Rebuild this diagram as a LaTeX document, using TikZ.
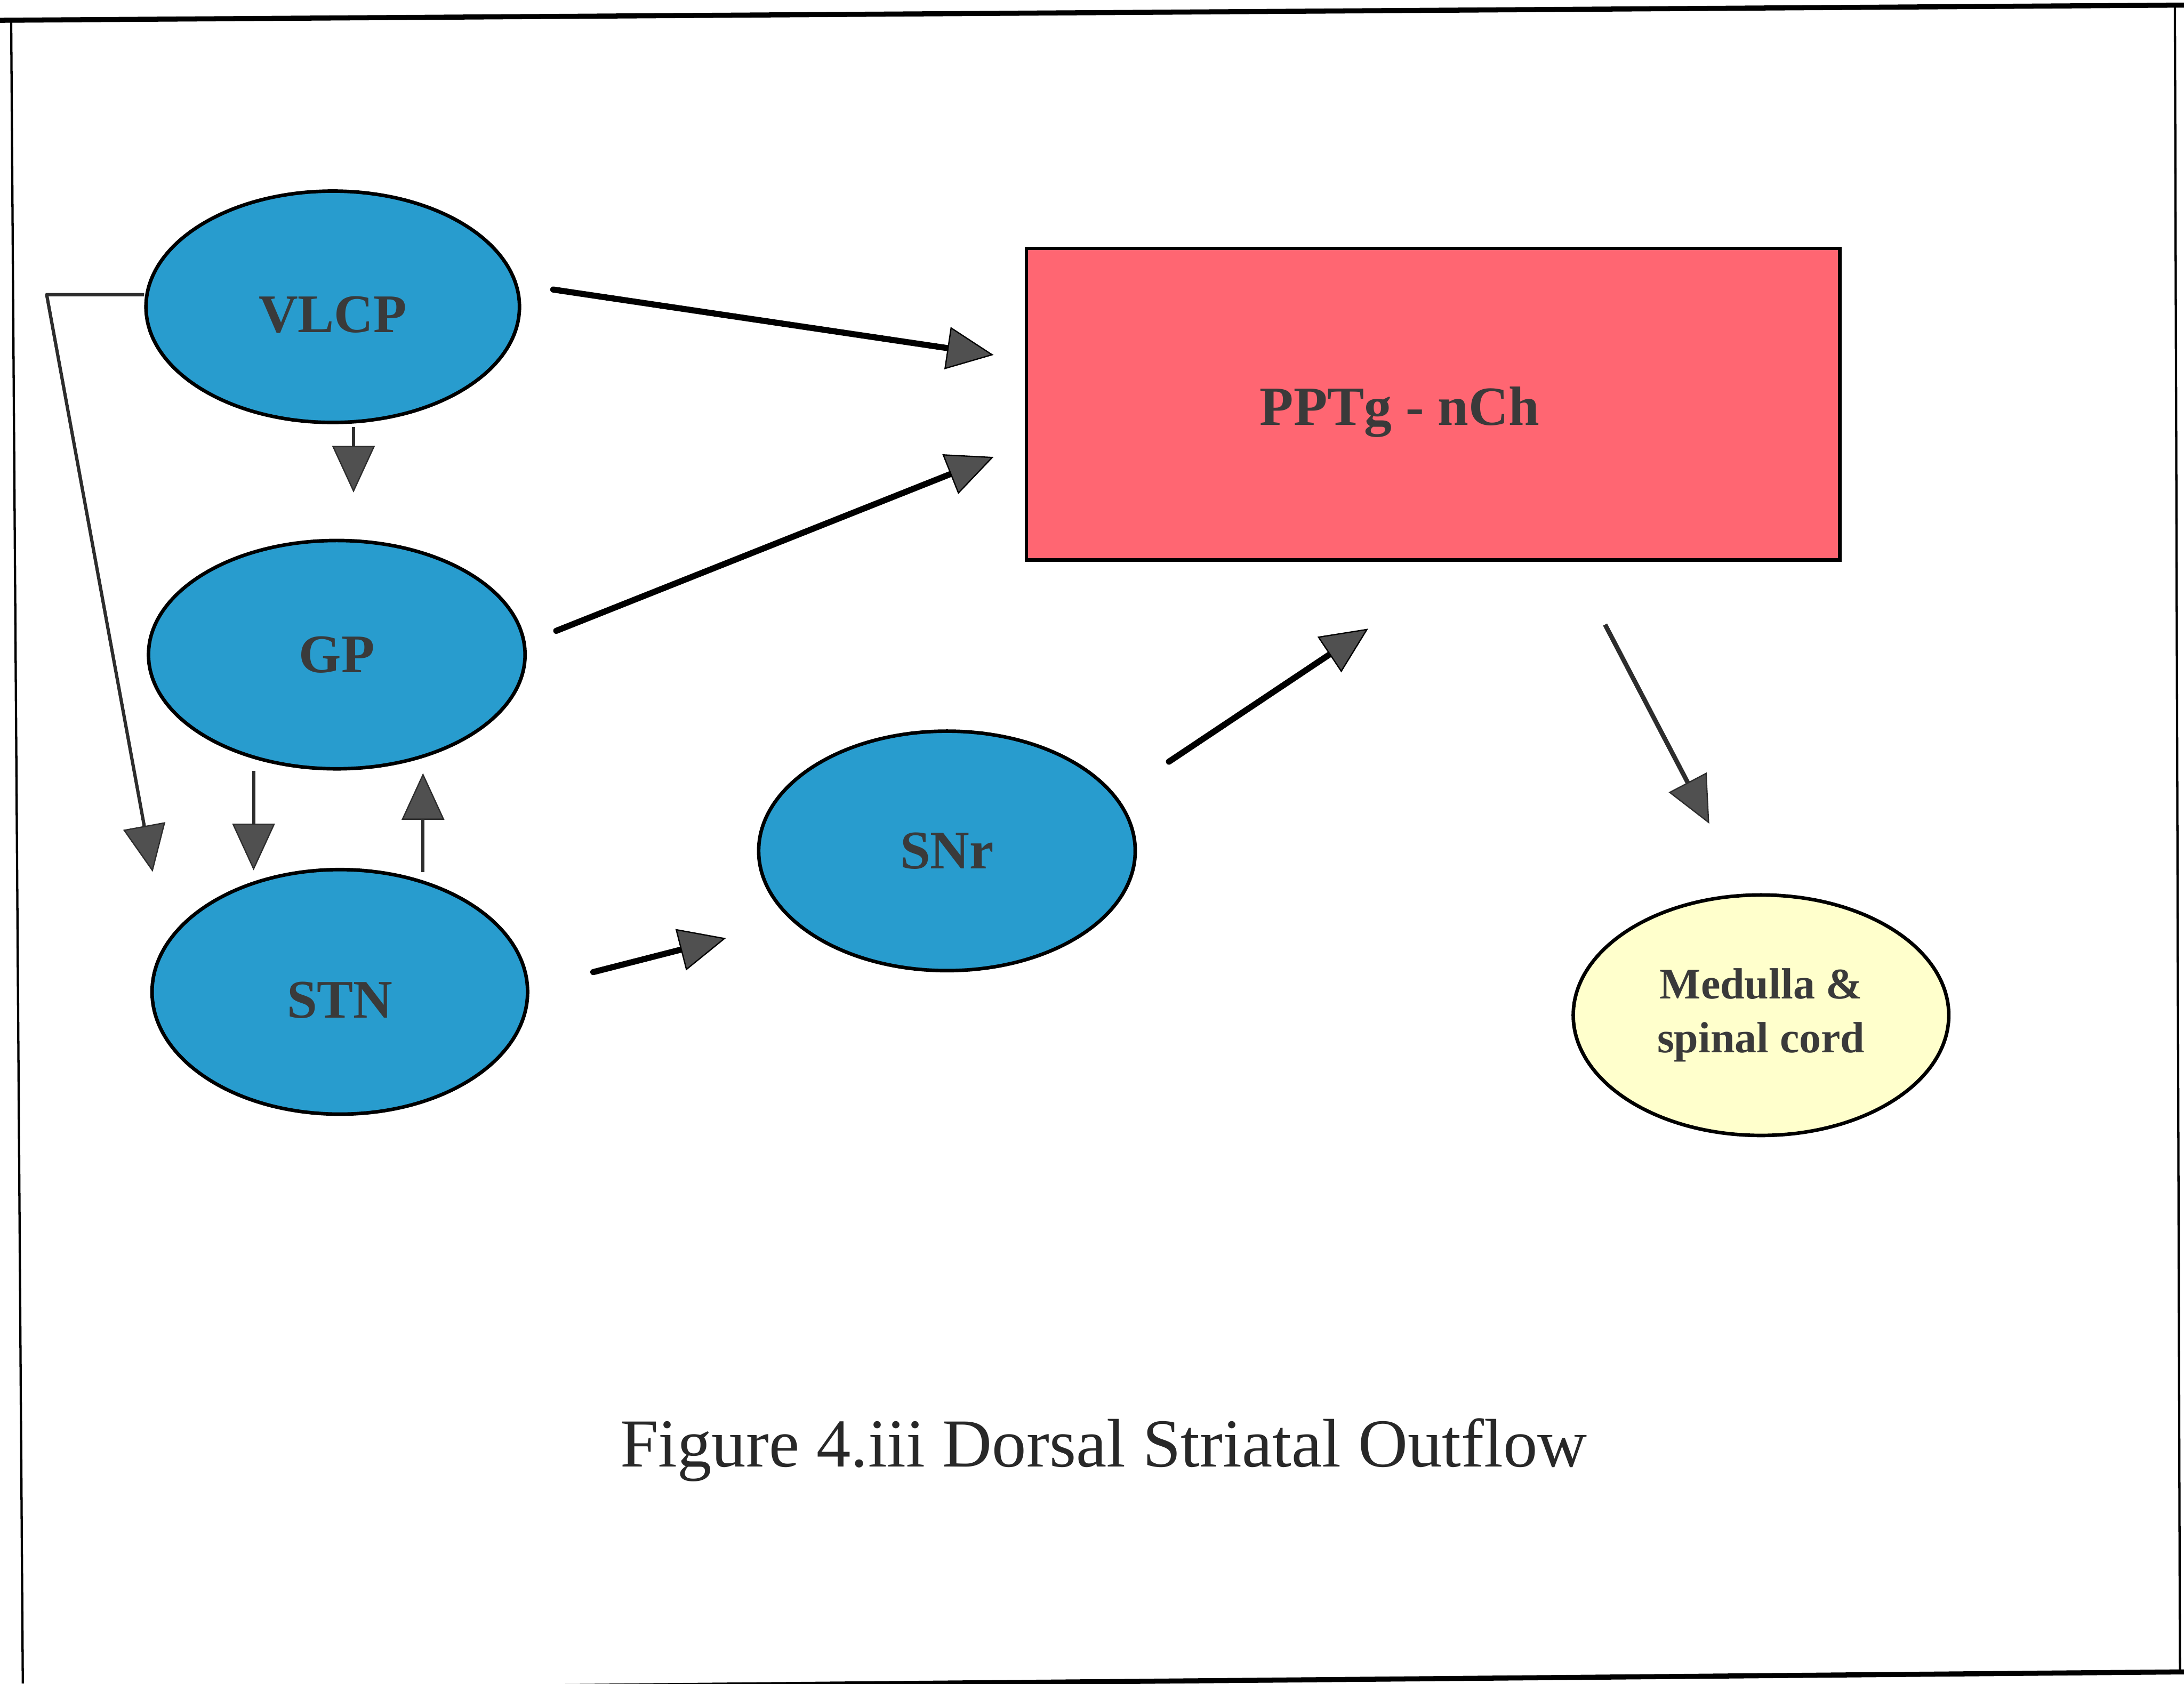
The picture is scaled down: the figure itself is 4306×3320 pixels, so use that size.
\documentclass[tikz,border=0pt]{standalone}
\usepackage{fontspec}
\setmainfont{Liberation Serif}
\usetikzlibrary{arrows.meta,shapes.geometric}

\definecolor{nucblue}{RGB}{40,156,206}
\definecolor{pptgpink}{RGB}{255,102,114}
\definecolor{cream}{RGB}{255,255,204}
\definecolor{labelgray}{RGB}{58,58,58}
\definecolor{capgray}{RGB}{40,40,40}
\definecolor{headgray}{RGB}{80,80,80}
\definecolor{linegray}{RGB}{45,45,45}

% drop a label a little below the node centre without changing its box
\newcommand{\lowered}[1]{\raisebox{-0.16cm}[\height][\depth]{#1}}

\tikzset{
  blob/.style={ellipse, draw=black, line width=0.07cm, fill=nucblue, inner sep=0pt,
    text=labelgray, font=\fontsize{30.5}{36}\selectfont\bfseries},
  con/.style={draw=linegray, line width=0.065cm, line join=round,
    -{Triangle[length=0.92cm,width=0.84cm,fill=headgray,line width=0.025cm]}},
  midline/.style={con, line width=0.09cm},
  heavy/.style={con, draw=black, line width=0.12cm, line cap=round},
  frameedge/.style={draw=black, line width=0.045cm},
  frametop/.style={draw=black, line width=0.1cm},
}

\begin{document}
\begin{tikzpicture}[x=0.01cm, y=-0.01cm]
  \useasboundingbox (0,0) rectangle (4306,3320);
  \fill[white] (0,0) rectangle (4306,3320);

  % page frame
  \draw[frametop] (0,40) -- (4306,10);
  \draw[frameedge] (22,38) -- (45,3320);
  \draw[frameedge] (4288,12) -- (4298,3300);
  \draw[frametop] (0,3336) -- (4306,3297);

  % nuclei
  \node[blob, minimum width=7.36cm, minimum height=4.56cm] (vlcp) at (656,605) {\lowered{VLCP}};
  \node[blob, minimum width=7.42cm, minimum height=4.5cm] (gp) at (664,1291) {GP};
  \node[blob, minimum width=7.4cm, minimum height=4.82cm] (stn) at (670,1956) {\lowered{STN}};
  \node[blob, minimum width=7.42cm, minimum height=4.72cm] (snr) at (1867,1678) {SNr};
  \node[rectangle, draw=black, line width=0.07cm, fill=pptgpink, inner sep=0pt,
        minimum width=16.03cm, minimum height=6.14cm, text=labelgray,
        font=\fontsize{31}{36}\selectfont\bfseries]
        (pptg) at (2825.5,797) {\lowered{PPTg - nCh}\hspace*{1.32cm}};
  \node[blob, fill=cream, minimum width=7.4cm, minimum height=4.74cm, align=center,
        font=\fontsize{24.5}{30}\selectfont\bfseries]
        (med) at (3472,2002) {Medulla \&\\spinal cord};

  % caption
  \node[anchor=base, text=capgray, font=\fontsize{38.5}{46}\selectfont]
        (cap) at (2176,2892) {Figure 4.iii Dorsal Striatal Outflow};

  % projections
  \draw[heavy] ([shift={(63,-34)}]vlcp.east) -- ([shift={(-61,-97)}]pptg.west);
  \draw[heavy] ([shift={(58,-47)}]gp.east) -- ([shift={(-61,104)}]pptg.west);
  \draw[con] ([shift={(41,5)}]vlcp.south) -- ([shift={(33,-91)}]gp.north);
  \draw[con] ([shift={(-164,0)}]gp.south) -- ([shift={(-170,5)}]stn.north);
  \draw[con] ([shift={(164,8)}]stn.north) -- ([shift={(170,5)}]gp.south);
  \coordinate (bend) at (92,581);
  \draw[con] ([shift={(0,-24)}]vlcp.west) -- (bend) -- ([shift={(-369,8)}]stn.north);
  \draw[heavy] ([shift={(126,-39)}]stn.east) -- ([shift={(-61,172)}]snr.west);
  \draw[heavy] ([shift={(63,-176)}]snr.east) -- ([shift={(-128,132)}]pptg.south);
  \draw[midline] ([shift={(339,124)}]pptg.south) -- ([shift={(-102,-137)}]med.north);
\end{tikzpicture}
\end{document}
